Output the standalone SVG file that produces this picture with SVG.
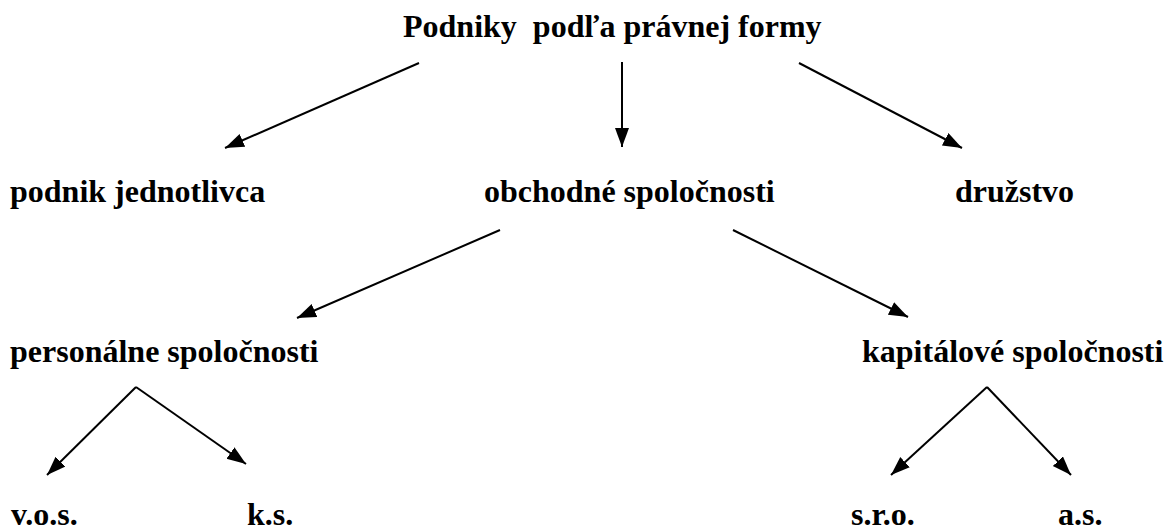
<svg xmlns="http://www.w3.org/2000/svg" width="1173" height="531" viewBox="0 0 1173 531">
<style>
text{font-family:"Liberation Serif","Times New Roman",serif;font-weight:bold;font-size:32px;fill:#000}
.c line{stroke:#000;stroke-width:2;marker-end:url(#ah)}
</style>
<defs>
<marker id="ah" markerUnits="userSpaceOnUse" markerWidth="22" markerHeight="16" refX="19" refY="7" orient="auto" viewBox="0 0 22 16">
<path d="M0,0 L19,7 L0,14 z" fill="#000"/>
</marker>
</defs>
<rect width="1173" height="531" fill="#fff"/>
<g id="title"><text x="403" y="37" xml:space="preserve">Podniky  podľa právnej formy</text></g>
<g id="podnik-jednotlivca"><text x="10" y="202">podnik jednotlivca</text></g>
<g id="obchodne-spolocnosti"><text x="484" y="202">obchodné spoločnosti</text></g>
<g id="druzstvo"><text x="955" y="202">družstvo</text></g>
<g id="personalne-spolocnosti"><text x="10" y="362">personálne spoločnosti</text></g>
<g id="kapitalove-spolocnosti"><text x="862" y="362">kapitálové spoločnosti</text></g>
<g id="vos"><text x="11" y="525">v.o.s.</text></g>
<g id="ks"><text x="247" y="525">k.s.</text></g>
<g id="sro"><text x="851" y="525">s.r.o.</text></g>
<g id="as"><text x="1058" y="525">a.s.</text></g>
<g id="connectors" class="c">
<line x1="419" y1="63" x2="225" y2="148"/>
<line x1="622" y1="62" x2="622" y2="147"/>
<line x1="799" y1="63" x2="962" y2="148"/>
<line x1="500" y1="230" x2="297" y2="318"/>
<line x1="733" y1="230" x2="908" y2="317"/>
<line x1="136" y1="387" x2="47" y2="475"/>
<line x1="136" y1="387" x2="246" y2="464"/>
<line x1="987" y1="387" x2="891" y2="475"/>
<line x1="987" y1="387" x2="1071" y2="475"/>
</g>
</svg>
